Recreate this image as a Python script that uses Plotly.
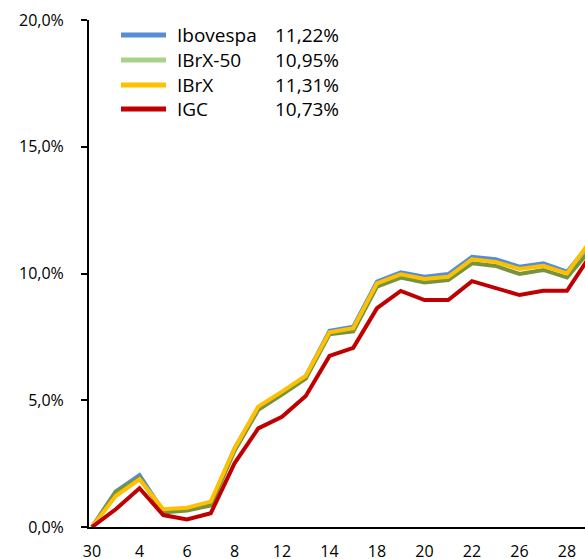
import plotly.graph_objects as go

days = ["30", "3", "4", "5", "6", "7", "8", "11", "12", "13", "14", "15",
        "18", "19", "20", "21", "22", "25", "26", "27", "28", "29"]

ibovespa = [0, 1.40, 2.05, 0.62, 0.70, 0.92, 3.10, 4.72, 5.32, 5.95, 7.74, 7.90,
            9.68, 10.05, 9.87, 9.98, 10.66, 10.56, 10.27, 10.40, 10.07, 11.22]
ibrx50 = [0, 1.38, 1.95, 0.58, 0.65, 0.85, 3.00, 4.62, 5.22, 5.85, 7.60, 7.72,
          9.48, 9.84, 9.65, 9.74, 10.40, 10.30, 9.98, 10.14, 9.84, 10.95]
ibrx = [0, 1.22, 1.88, 0.70, 0.76, 1.00, 3.10, 4.75, 5.34, 5.96, 7.68, 7.84,
        9.61, 9.97, 9.78, 9.87, 10.56, 10.45, 10.18, 10.30, 10.00, 11.31]
igc = [0, 0.70, 1.53, 0.47, 0.30, 0.54, 2.51, 3.89, 4.35, 5.17, 6.75, 7.07,
       8.63, 9.31, 8.95, 8.95, 9.70, 9.41, 9.15, 9.32, 9.32, 10.73]

names = ["Ibovespa", "IBrX-50", "IBrX", "IGC"]
series = [ibovespa, ibrx50, ibrx, igc]
line_colors = ["#558ED5", "#77933C", "#FFC000", "#C00000"]
legend_colors = ["#558ED5", "#A9D18E", "#FFC000", "#C00000"]

y_ticks = [0, 5, 10, 15, 20]
y_ticktext = ["0,0%", "5,0%", "10,0%", "15,0%", "20,0%"]

x = list(range(len(days)))
FONT = "Open Sans"

fig = go.Figure()
for name, vals, col in zip(names, series, line_colors):
    fig.add_trace(go.Scatter(x=x, y=vals, mode="lines", name=name,
                             line=dict(color=col, width=4), showlegend=False,
                             cliponaxis=True))

W, H = 585, 559
L, R, T, B = 89, 0, 20, 32
pw, ph = W - L - R, H - T - B

def px(xp):
    return (xp - L) / pw

def py(yp):
    return (H - B - yp) / ph

rows = [35, 60, 85, 109]
for name, vals, col, yr in zip(names, series, legend_colors, rows):
    fig.add_shape(type="line", xref="paper", yref="paper",
                  x0=px(121), x1=px(166), y0=py(yr), y1=py(yr),
                  line=dict(color=col, width=5))
    fig.add_annotation(xref="paper", yref="paper", x=px(175), y=py(yr),
                       text=name, showarrow=False, xanchor="left", yanchor="middle",
                       font=dict(family=FONT, size=19, color="#000000"))
    fig.add_annotation(xref="paper", yref="paper", x=px(273), y=py(yr),
                       text=f"{vals[-1]:.2f}%".replace(".", ","), showarrow=False,
                       xanchor="left", yanchor="middle",
                       font=dict(family=FONT, size=19, color="#000000"))

step = 23.75
fig.update_layout(
    width=W, height=H,
    margin=dict(l=L, r=R, t=T, b=B, pad=0),
    paper_bgcolor="white", plot_bgcolor="white",
    font=dict(family=FONT, size=16, color="#000000"),
    xaxis=dict(range=[-3 / step, (W - L - 3) / step],
               tickvals=x[::2], ticktext=days[::2],
               showgrid=False, zeroline=False, automargin=False,
               showline=True, linecolor="#000000", linewidth=2,
               ticks="", ticklabelstandoff=9,
               tickfont=dict(family=FONT, size=16, color="#000000")),
    yaxis=dict(range=[0, 20], tickvals=y_ticks, ticktext=y_ticktext,
               showgrid=False, zeroline=False, automargin=False,
               showline=True, linecolor="#000000", linewidth=2,
               ticks="outside", ticklen=6, tickwidth=2, tickcolor="#000000",
               ticklabelstandoff=14,
               tickfont=dict(family=FONT, size=16, color="#000000")),
)

fig.write_html("out.html",
               config={"displayModeBar": False},
               post_script="document.body.style.margin='0';document.body.style.overflow='hidden';")
